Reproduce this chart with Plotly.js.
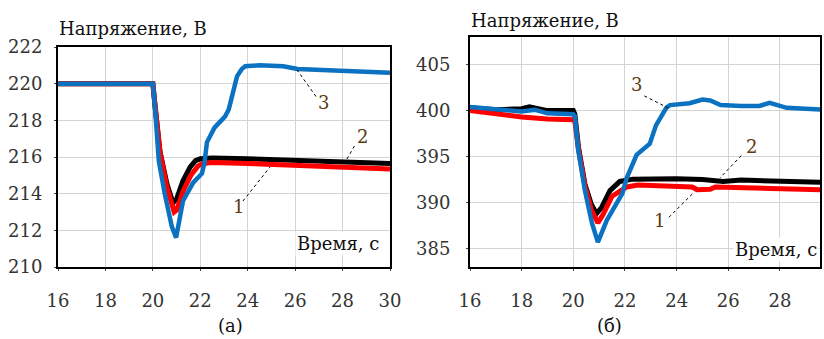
<!DOCTYPE html>
<html>
<head>
<meta charset="utf-8">
<script src="https://cdn.plot.ly/plotly-3.0.1.min.js"></script>
<style>
  html, body { margin: 0; padding: 0; background: #fff; }
  #chart { width: 824px; height: 339px; }
</style>
</head>
<body>
<div id="chart"></div>
<script>
// Panel (а): 220 V network, voltage transient after the load step at t = 20 s
const timeA_1 = [16, 20.0, 20.1, 20.3, 20.6, 20.8, 20.9, 21.0, 21.15, 21.3, 21.6, 21.9, 22.1, 22.5, 24, 26, 28, 30];
const voltA_1 = [220, 220, 218.7, 216.3, 214.3, 213.4, 213.0, 213.1, 213.6, 214.2, 215.0, 215.5, 215.65, 215.7, 215.65, 215.55, 215.45, 215.35];
const timeA_2 = [16, 20.0, 20.1, 20.3, 20.6, 20.75, 20.85, 21.0, 21.12, 21.27, 21.57, 21.8, 22.0, 22.5, 24, 26, 28, 30];
const voltA_2 = [220, 220, 218.7, 216.3, 214.5, 213.8, 213.5, 213.7, 214.1, 214.7, 215.45, 215.8, 215.9, 215.95, 215.9, 215.8, 215.72, 215.65];
const timeA_3 = [16, 20.0, 20.1, 20.25, 20.5, 20.8, 20.98, 21.1, 21.27, 21.7, 22.07, 22.18, 22.28, 22.6, 23.04, 23.2, 23.4, 23.55, 23.75, 23.9, 24.5, 25.5, 26.1, 27, 28, 29, 30];
const voltA_3 = [220, 220, 218.5, 215.8, 214.0, 212.2, 211.6, 212.5, 213.6, 214.6, 215.1, 215.7, 216.8, 217.6, 218.2, 218.6, 219.7, 220.4, 220.8, 220.95, 221.0, 220.95, 220.8, 220.75, 220.7, 220.65, 220.6];

// Panel (б): 400 V network
const timeB_1 = [16, 17, 18, 19, 20.0, 20.06, 20.2, 20.45, 20.7, 20.95, 21.15, 21.5, 21.8, 22.07, 22.5, 23.5, 24.6, 24.8, 25.0, 25.3, 25.5, 26.5, 28, 29.6];
const voltB_1 = [400.0, 399.6, 399.3, 399.1, 399.0, 398.8, 395.8, 391.8, 389.2, 387.8, 388.7, 390.7, 391.3, 391.7, 391.9, 391.8, 391.7, 391.4, 391.4, 391.45, 391.7, 391.6, 391.5, 391.4];
const timeB_2 = [16, 17, 18, 18.3, 19, 20.0, 20.06, 20.2, 20.45, 20.7, 20.9, 21.1, 21.42, 21.8, 22.3, 23, 24, 25, 25.8, 26.5, 27.5, 28.3, 29, 29.6];
const voltB_2 = [400.3, 400.1, 400.2, 400.4, 400.0, 400.0, 399.6, 396.0, 392.0, 389.8, 388.8, 389.5, 391.3, 392.3, 392.55, 392.6, 392.6, 392.5, 392.3, 392.45, 392.4, 392.3, 392.2, 392.2];
const timeB_3 = [16, 17, 18, 18.5, 19, 20.0, 20.06, 20.18, 20.45, 20.72, 20.95, 21.3, 21.9, 22.07, 22.45, 22.96, 23.2, 23.6, 23.74, 24.5, 25.0, 25.3, 25.7, 26.5, 27.2, 27.6, 28.26, 29, 29.6];
const voltB_3 = [400.4, 400.2, 399.9, 400.1, 399.7, 399.6, 399.4, 395.9, 391.3, 387.8, 385.7, 388.1, 391.0, 392.7, 395.2, 396.4, 398.4, 400.3, 400.6, 400.8, 401.2, 401.1, 400.6, 400.5, 400.5, 400.85, 400.3, 400.2, 400.1];

const ticksX = [16, 18, 20, 22, 24, 26, 28, 30];
const ticksYA = [210, 212, 214, 216, 218, 220, 222];
const ticksYB = [385, 390, 395, 400, 405];

const titleY = 'Напряжение, В';
const titleX = 'Время, с';
const panelLabels = ['(а)', '(б)'];

const RED = '#ff0000', BLACK = '#000000', BLUE = '#0b72c2';
const FONT = 'DejaVu Serif';
const FS = 18;
const W = 824, H = 339;

function line(x, y, color, width, xa, ya) {
  return { x: x, y: y, xaxis: xa, yaxis: ya, type: 'scatter', mode: 'lines',
           line: { color: color, width: width, shape: 'linear' },
           hoverinfo: 'skip', showlegend: false };
}

const data = [
  line(timeA_2, voltA_2, BLACK, 5, 'x', 'y'),
  line(timeA_1, voltA_1, RED, 5, 'x', 'y'),
  line(timeA_3, voltA_3, BLUE, 4.5, 'x', 'y'),
  line(timeB_2, voltB_2, BLACK, 5, 'x2', 'y2'),
  line(timeB_1, voltB_1, RED, 5, 'x2', 'y2'),
  line(timeB_3, voltB_3, BLUE, 4.5, 'x2', 'y2')
];

const axisCommon = {
  showline: true, mirror: true, linecolor: '#000', linewidth: 2,
  showgrid: true, gridcolor: '#d4d4d4', gridwidth: 1,
  zeroline: false, ticks: 'outside', ticklen: 2, tickcolor: '#444',
  tickfont: { family: FONT, size: FS, color: '#333' },
  fixedrange: true
};

const px = v => v / W;
const py = v => (H - v) / H;

const textFont = { family: FONT, size: FS, color: '#111' };
const numFont = { family: FONT, size: FS, color: '#5a3a10' };

const layout = {
  width: W, height: H,
  margin: { l: 0, r: 0, t: 0, b: 0 },
  paper_bgcolor: '#fff', plot_bgcolor: '#fff',
  font: { family: FONT, color: '#000' },
  xaxis: Object.assign({}, axisCommon, { domain: [px(58), px(390)], range: [16, 30],
    tickvals: ticksX, ticklabelstandoff: 14, anchor: 'y' }),
  yaxis: Object.assign({}, axisCommon, { domain: [py(267), py(47)], range: [210, 222],
    tickvals: ticksYA, ticklabelstandoff: 8, anchor: 'x' }),
  xaxis2: Object.assign({}, axisCommon, { domain: [px(470), px(820)], range: [16, 29.55],
    tickvals: ticksX, ticklabelstandoff: 14, anchor: 'y2' }),
  yaxis2: Object.assign({}, axisCommon, { domain: [py(267), py(37)], range: [383, 408],
    tickvals: ticksYB, ticklabelstandoff: 12, anchor: 'x2' }),
  annotations: [
    { text: titleY, xref: 'paper', yref: 'paper', x: px(57), y: py(28), xanchor: 'left', yanchor: 'middle',
      showarrow: false, font: textFont },
    { text: titleY, xref: 'paper', yref: 'paper', x: px(469), y: py(20), xanchor: 'left', yanchor: 'middle',
      showarrow: false, font: textFont },
    { text: titleX, xref: 'x', yref: 'y', x: 29.6, y: 211.3, xanchor: 'right', yanchor: 'middle',
      showarrow: false, bgcolor: '#fff', borderpad: 1, font: textFont },
    { text: titleX, xref: 'x2', yref: 'y2', x: 29.5, y: 384.9, xanchor: 'right', yanchor: 'middle',
      showarrow: false, bgcolor: '#fff', borderpad: 1, font: textFont },
    { text: panelLabels[0], xref: 'paper', yref: 'paper', x: px(230), y: py(325), xanchor: 'center', yanchor: 'middle',
      showarrow: false, font: textFont },
    { text: panelLabels[1], xref: 'paper', yref: 'paper', x: px(609), y: py(325), xanchor: 'center', yanchor: 'middle',
      showarrow: false, font: textFont },
    // curve numbers
    { text: '3', xref: 'x', yref: 'y', x: 27.18, y: 218.95, showarrow: false, font: numFont },
    { text: '2', xref: 'x', yref: 'y', x: 28.86, y: 217.1, showarrow: false, font: numFont },
    { text: '1', xref: 'x', yref: 'y', x: 23.6, y: 213.3, showarrow: false, font: numFont },
    { text: '3', xref: 'x2', yref: 'y2', x: 22.46, y: 402.8, showarrow: false, font: numFont },
    { text: '2', xref: 'x2', yref: 'y2', x: 26.9, y: 396.1, showarrow: false, font: numFont },
    { text: '1', xref: 'x2', yref: 'y2', x: 23.35, y: 388.1, showarrow: false, font: numFont }
  ],
  shapes: [
    // leader lines from the curve numbers to their curves
    { type: 'line', xref: 'x', yref: 'y', x0: 26.88, y0: 219.3, x1: 26.08, y1: 220.75, line: { color: '#000', width: 1, dash: 'dot' } },
    { type: 'line', xref: 'x', yref: 'y', x0: 28.5, y0: 216.6, x1: 28.1, y1: 215.7, line: { color: '#000', width: 1, dash: 'dot' } },
    { type: 'line', xref: 'x', yref: 'y', x0: 23.8, y0: 213.6, x1: 24.94, y1: 215.45, line: { color: '#000', width: 1, dash: 'dot' } },
    { type: 'line', xref: 'x2', yref: 'y2', x0: 22.75, y0: 401.6, x1: 23.66, y1: 400.3, line: { color: '#000', width: 1, dash: 'dot' } },
    { type: 'line', xref: 'x2', yref: 'y2', x0: 26.5, y0: 395.1, x1: 25.67, y1: 392.66, line: { color: '#000', width: 1, dash: 'dot' } },
    { type: 'line', xref: 'x2', yref: 'y2', x0: 23.7, y0: 388.4, x1: 24.7, y1: 391.2, line: { color: '#000', width: 1, dash: 'dot' } }
  ]
};

Plotly.newPlot('chart', data, layout, { staticPlot: true, displayModeBar: false });
</script>
</body>
</html>
